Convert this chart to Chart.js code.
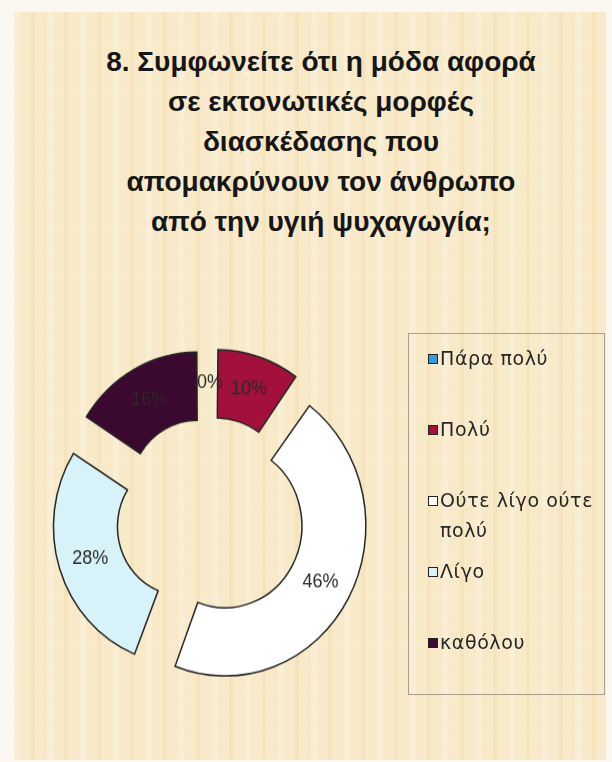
<!DOCTYPE html>
<html>
<head>
<meta charset="utf-8">
<script src="https://cdn.jsdelivr.net/npm/chart.js@4"></script>
<style>
    html, body { margin: 0; padding: 0; }
    body { width: 612px; height: 762px; background: #fbf8f1; position: relative; overflow: hidden; font-family: 'Liberation Sans', Arial, sans-serif; }
    #panel {
        position: absolute; left: 14px; top: 12px; width: 592px; height: 748px;
        background-color: #f8eac8;
        background-image:
            repeating-linear-gradient(90deg, rgba(255,255,255,0.22) 0 6px, rgba(0,0,0,0) 6px 17px, rgba(232,198,130,0.18) 17px 21px, rgba(0,0,0,0) 21px 33px),
            repeating-linear-gradient(0deg, rgba(255,255,255,0.07) 0 4px, rgba(0,0,0,0) 4px 23px);
    }
    #title {
        position: absolute; left: 0; width: 642px; top: 42px;
        text-align: center; font-weight: bold; font-size: 28px; line-height: 40px; color: #161616;
    }
    #chartWrap { position: absolute; left: 0; top: 0; width: 612px; height: 762px; transform: scaleY(1.066); transform-origin: 210px 517px; }
    #legend {
        position: absolute; left: 408px; top: 333px; width: 197px; height: 362px;
        box-sizing: border-box; border: 1px solid #a89f8e; padding-top: 9px;
        font-family: 'DejaVu Sans', sans-serif; font-size: 19px; letter-spacing: 0.6px; color: #262626;
        white-space: nowrap;
    }
    #legend .item { height: 71px; position: relative; padding-left: 31px; line-height: 30px; }
    #legend .box { position: absolute; left: 19px; top: 11px; width: 8px; height: 8px; border: 1px solid #222; }
</style>
</head>
<body>
<div id="panel"></div>
<div id="title"></div>
<div id="chartWrap"><canvas id="graph1" width="612" height="762"></canvas></div>
<div id="legend"></div>
<script>
const titleLines = [
    '8. Συμφωνείτε ότι η μόδα αφορά',
    'σε εκτονωτικές μορφές',
    'διασκέδασης που',
    'απομακρύνουν τον άνθρωπο',
    'από την υγιή ψυχαγωγία;'
];
const categories = ['Πάρα πολύ', 'Πολύ', 'Ούτε λίγο ούτε πολύ', 'Λίγο', 'καθόλου'];
const legendLines = [['Πάρα πολύ'], ['Πολύ'], ['Ούτε λίγο ούτε', 'πολύ'], ['Λίγο'], ['καθόλου']];
const percentages = [0, 10, 46, 28, 16];
const sliceColors = ['#2f9be0', '#a3103c', '#ffffff', '#d7f3f9', '#3b0830'];

const EXPLODE = 30;

document.getElementById('title').innerHTML = titleLines.join('<br>');

const legend = document.getElementById('legend');
categories.forEach((c, i) => {
    const item = document.createElement('div');
    item.className = 'item';
    item.innerHTML = '<span class="box" style="background:' + sliceColors[i] + '"></span>' + legendLines[i].join('<br>');
    legend.appendChild(item);
});

const total = percentages.reduce((a, b) => a + b, 0);

// chart.js moves an arc by offset/4 * (1 + fix); undo that so every slice moves EXPLODE px
function sliceOffset(ctx) {
    const circ = ctx.raw / total * Math.PI * 2;
    const fix = 1 - Math.sin(Math.min(Math.PI, circ));
    return 4 * EXPLODE / (1 + fix);
}

const pctLabels = {
    id: 'pctLabels',
    afterDatasetsDraw(chart) {
        const ctx = chart.ctx;
        const meta = chart.getDatasetMeta(0);
        ctx.save();
        ctx.font = '18px "Liberation Sans", Arial, sans-serif';
        ctx.fillStyle = '#2a2a2a';
        ctx.textAlign = 'center';
        ctx.textBaseline = 'middle';
        meta.data.forEach((arc, i) => {
            const p = arc.getProps(['x', 'y', 'startAngle', 'endAngle', 'innerRadius', 'outerRadius'], true);
            const mid = (p.startAngle + p.endAngle) / 2;
            const r = (p.innerRadius + p.outerRadius) / 2 + EXPLODE;
            ctx.fillText(percentages[i] + '%', p.x + Math.cos(mid) * r, p.y + Math.sin(mid) * r);
        });
        ctx.restore();
    }
};

new Chart(document.getElementById('graph1'), {
    type: 'doughnut',
    data: {
        labels: categories,
        datasets: [{
            data: percentages,
            backgroundColor: sliceColors,
            borderColor: '#262626',
            borderWidth: 1.5,
            borderJoinStyle: 'miter',
            offset: sliceOffset
        }]
    },
    options: {
        responsive: false,
        animation: false,
        radius: 128,
        cutout: '50%',
        layout: { padding: { left: 20, right: 212, top: 327, bottom: 55 } },
        plugins: {
            legend: { display: false },
            tooltip: { enabled: false }
        }
    },
    plugins: [pctLabels]
});
</script>
</body>
</html>
